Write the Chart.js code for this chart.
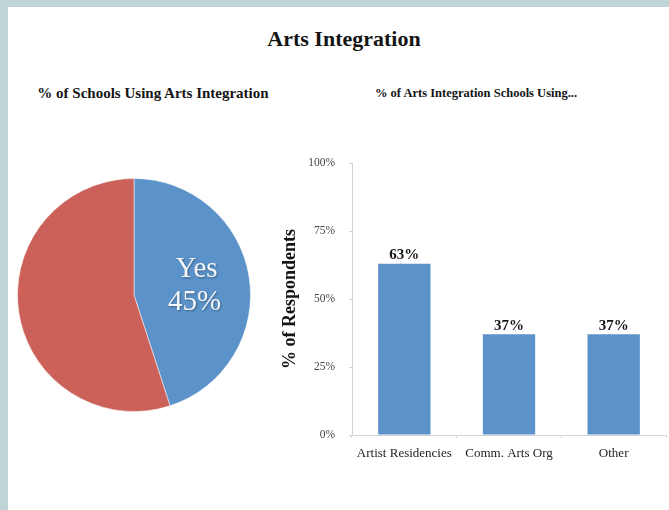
<!DOCTYPE html>
<html>
<head>
<meta charset="utf-8">
<script src="https://cdn.jsdelivr.net/npm/chart.js@4"></script>
<style>
  html, body { margin: 0; padding: 0; }
  body { width: 669px; height: 510px; background: #bfd4d4; position: relative; overflow: hidden; font-family: "Liberation Serif", serif; }
  #panel { position: absolute; left: 8px; top: 7px; right: 0; bottom: 0; background: #fff; }
  .txt { position: absolute; font-weight: bold; color: #151515; white-space: nowrap; transform: translateX(-50%); }
  #title { left: 344px; top: 26px; font-size: 22px; }
  #subL { left: 153px; top: 85px; font-size: 15px; }
  #subR { left: 476px; top: 86px; font-size: 12.5px; }
  #pieWrap { position: absolute; left: 17px; top: 178px; width: 234px; height: 234px; }
  #barWrap { position: absolute; left: 270px; top: 140px; width: 399px; height: 330px; }
</style>
</head>
<body>
<div id="panel"></div>
<div class="txt" id="title">Arts Integration</div>
<div class="txt" id="subL">% of Schools Using Arts Integration</div>
<div class="txt" id="subR">% of Arts Integration Schools Using...</div>
<div id="pieWrap"><canvas id="pieChart" width="234" height="234"></canvas></div>
<div id="barWrap"><canvas id="barChart" width="399" height="330"></canvas></div>
<script>
const pieLabels = ["Yes", "No"];
const pieValues = [45, 55];
const pieColors = ["#5b92c9", "#cb6159"];

const barLabels = ["Artist Residencies", "Comm. Arts Org", "Other"];
const barValues = [63, 37, 37];
const yTicks = [0, 25, 50, 75, 100];

const serif = "'Liberation Serif', 'Times New Roman', serif";

// white "Yes 45%" label inside the blue slice
const pieLabelPlugin = {
    id: "pieLabel",
    afterDatasetsDraw(chart) {
        const ctx = chart.ctx;
        const arc = chart.getDatasetMeta(0).data[0];
        const p = arc.getCenterPoint();
        ctx.save();
        ctx.font = "29px " + serif;
        ctx.fillStyle = "#f4f6f8";
        ctx.textAlign = "center";
        ctx.textBaseline = "middle";
        ctx.shadowColor = "rgba(0,0,0,0.35)";
        ctx.shadowBlur = 2;
        ctx.shadowOffsetX = 1;
        ctx.shadowOffsetY = 1;
        ctx.fillText(pieLabels[0], p.x + 5, p.y - 16);
        ctx.fillText(pieValues[0] + "%", p.x + 3, p.y + 17);
        ctx.restore();
    }
};

new Chart(document.querySelector("#pieChart"), {
    type: "pie",
    data: {
        labels: pieLabels,
        datasets: [{
            data: pieValues,
            backgroundColor: pieColors,
            borderColor: "rgba(255,255,255,0.5)",
            borderWidth: 1
        }]
    },
    options: {
        responsive: false,
        animation: false,
        layout: { padding: 0 },
        plugins: { legend: { display: false }, tooltip: { enabled: false } }
    },
    plugins: [pieLabelPlugin]
});

// value labels above bars
const barLabelPlugin = {
    id: "barLabel",
    afterDatasetsDraw(chart) {
        const ctx = chart.ctx;
        ctx.save();
        ctx.font = "bold 15px " + serif;
        ctx.fillStyle = "#151515";
        ctx.textAlign = "center";
        ctx.textBaseline = "bottom";
        chart.getDatasetMeta(0).data.forEach(function (bar, i) {
            ctx.fillText(barValues[i] + "%", bar.x, bar.y - 1);
        });
        ctx.restore();
    }
};

new Chart(document.querySelector("#barChart"), {
    type: "bar",
    data: {
        labels: barLabels,
        datasets: [{
            data: barValues,
            backgroundColor: "#5b92c9",
            borderWidth: 0,
            barPercentage: 0.5,
            categoryPercentage: 1.0
        }]
    },
    options: {
        responsive: false,
        animation: false,
        layout: { padding: { left: 0, top: 23, right: 3, bottom: 0 } },
        plugins: { legend: { display: false }, tooltip: { enabled: false } },
        scales: {
            x: {
                afterFit(scale) { scale.height = 35; },
                border: { color: "#d4d4d4", width: 1 },
                grid: { drawOnChartArea: false, tickLength: 3, color: "#d4d4d4", offset: true },
                ticks: { color: "#1e1e1e", font: { family: serif, size: 13 }, padding: 8, maxRotation: 0 }
            },
            y: {
                min: 0,
                max: 100,
                afterFit(scale) { scale.width = 82; },
                afterBuildTicks(scale) { scale.ticks = yTicks.map(v => ({ value: v })); },
                border: { color: "#d4d4d4", width: 1 },
                grid: { drawOnChartArea: false, tickLength: 3, color: "#d4d4d4" },
                ticks: {
                    color: "#444",
                    font: { family: serif, size: 11.5 },
                    padding: 14,
                    callback: v => v + "%"
                },
                title: {
                    display: true,
                    text: "% of Respondents",
                    color: "#151515",
                    font: { family: serif, size: 18, weight: "bold" },
                    padding: { top: 10, bottom: 0 }
                }
            }
        }
    },
    plugins: [barLabelPlugin]
});
</script>
</body>
</html>
